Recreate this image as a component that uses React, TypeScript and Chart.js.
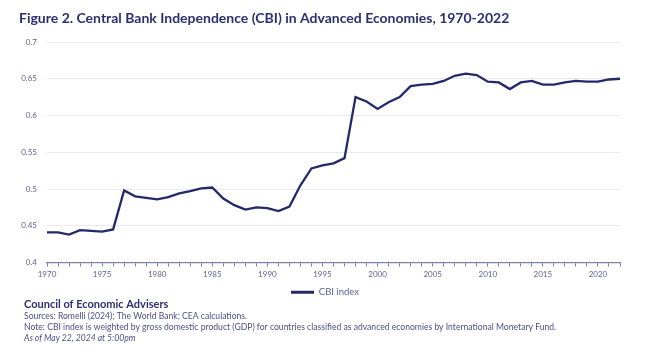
import React, { useEffect, useRef } from "react";
import { Chart, registerables } from "chart.js";

Chart.register(...registerables);

const years = [
  1970, 1971, 1972, 1973, 1974, 1975, 1976, 1977, 1978, 1979,
  1980, 1981, 1982, 1983, 1984, 1985, 1986, 1987, 1988, 1989,
  1990, 1991, 1992, 1993, 1994, 1995, 1996, 1997, 1998, 1999,
  2000, 2001, 2002, 2003, 2004, 2005, 2006, 2007, 2008, 2009,
  2010, 2011, 2012, 2013, 2014, 2015, 2016, 2017, 2018, 2019,
  2020, 2021, 2022,
];

const cbiIndex = [
  0.441, 0.441, 0.438, 0.444, 0.443, 0.442, 0.445, 0.498, 0.49, 0.488,
  0.486, 0.489, 0.494, 0.497, 0.501, 0.502, 0.487, 0.478, 0.472, 0.475,
  0.474, 0.47, 0.476, 0.505, 0.528, 0.532, 0.535, 0.542, 0.625, 0.619,
  0.609, 0.618, 0.625, 0.64, 0.642, 0.643, 0.647, 0.654, 0.657, 0.655,
  0.646, 0.645, 0.636, 0.645, 0.647, 0.642, 0.642, 0.645, 0.647, 0.646,
  0.646, 0.649, 0.65,
];

const seriesLabel = "CBI index";
const titleText =
  "Figure 2. Central Bank Independence (CBI) in Advanced Economies, 1970-2022";
const footerLines = [
  "Council of Economic Advisers",
  "Sources: Romelli (2024); The World Bank; CEA calculations.",
  "Note: CBI index is weighted by gross domestic product (GDP) for countries classified as advanced economies by International Monetary Fund.",
  "As of May 22, 2024 at 5:00pm",
];

const NAVY = "#25296a";
const TEXT_NAVY = "#2c2f72";
const TICK_COLOR = "#5f6393";
const FONT = "Lato, 'Open Sans', sans-serif";

const textPlugin = {
  id: "textPlugin",
  afterDraw(chart: any) {
    const ctx = chart.ctx;
    ctx.save();
    ctx.textAlign = "left";
    ctx.textBaseline = "middle";
    ctx.fillStyle = TEXT_NAVY;
    ctx.font = `bold 14px ${FONT}`;
    ctx.fillText(titleText, 19, 18);

    ctx.font = `bold 11px ${FONT}`;
    ctx.fillStyle = TEXT_NAVY;
    ctx.fillText(footerLines[0], 24, 304);

    ctx.font = `8.6px ${FONT}`;
    ctx.fillStyle = "#4b4f8a";
    ctx.fillText(footerLines[1], 24, 316);
    ctx.fillText(footerLines[2], 24, 327);
    ctx.font = `italic 8.6px ${FONT}`;
    ctx.fillText(footerLines[3], 24, 338);
    ctx.restore();
  },
};

export default function App() {
  const canvasRef = useRef<HTMLCanvasElement | null>(null);

  useEffect(() => {
    if (!canvasRef.current) return;
    const chart = new Chart(canvasRef.current, {
      type: "line",
      data: {
        labels: years.map(String),
        datasets: [
          {
            label: seriesLabel,
            data: cbiIndex,
            borderColor: NAVY,
            backgroundColor: NAVY,
            borderWidth: 2.3,
            pointRadius: 0,
            tension: 0,
            fill: false,
          },
        ],
      },
      options: {
        responsive: false,
        animation: false,
        layout: { padding: { top: 42, left: 0, right: 0, bottom: 43 } },
        plugins: {
          title: { display: false },
          tooltip: { enabled: false },
          legend: {
            display: true,
            position: "bottom",
            labels: {
              color: TICK_COLOR,
              font: { family: FONT, size: 9.5 },
              boxWidth: 23,
              boxHeight: 3,
              padding: 5,
              generateLabels: () => [
                {
                  text: seriesLabel,
                  fillStyle: NAVY,
                  strokeStyle: NAVY,
                  lineWidth: 0,
                  fontColor: TICK_COLOR,
                  hidden: false,
                  datasetIndex: 0,
                },
              ],
            },
          },
        },
        scales: {
          x: {
            type: "category",
            offset: false,
            afterFit: (scale: any) => {
              scale.height = 20;
            },
            grid: {
              display: true,
              drawOnChartArea: false,
              drawTicks: true,
              tickLength: 4,
              tickColor: "#7d81a8",
            },
            border: { display: true, color: "#7d81a8", width: 1.2 },
            ticks: {
              autoSkip: false,
              maxRotation: 0,
              minRotation: 0,
              padding: 3,
              color: TICK_COLOR,
              font: { family: FONT, size: 8 },
              callback: (_v: any, i: number) =>
                years[i] % 5 === 0 ? String(years[i]) : "",
            },
          },
          y: {
            min: 0.4,
            max: 0.7,
            afterFit: (scale: any) => {
              scale.width = 47;
            },
            grid: {
              display: true,
              drawTicks: false,
              color: (c: any) =>
                c.tick && c.tick.value === 0.4 ? "rgba(0,0,0,0)" : "#e7e9f1",
              lineWidth: 1,
            },
            border: { display: false },
            ticks: {
              stepSize: 0.05,
              padding: 10,
              color: TICK_COLOR,
              font: { family: FONT, size: 8 },
              callback: (v: any) => String(Number(Number(v).toFixed(2))),
            },
          },
          yRight: {
            position: "right",
            min: 0.4,
            max: 0.7,
            afterFit: (scale: any) => {
              scale.width = 30;
            },
            grid: { display: false, drawOnChartArea: false, drawTicks: false },
            border: { display: false },
            ticks: { display: false },
          },
        },
      },
      plugins: [textPlugin],
    });
    return () => chart.destroy();
  }, []);

  return (
    <div
      style={{
        position: "fixed",
        left: 0,
        top: 0,
        width: 650,
        height: 350,
        background: "#ffffff",
      }}
    >
      <canvas
        ref={canvasRef}
        width={650}
        height={350}
        style={{ width: 650, height: 350, display: "block" }}
      />
    </div>
  );
}
